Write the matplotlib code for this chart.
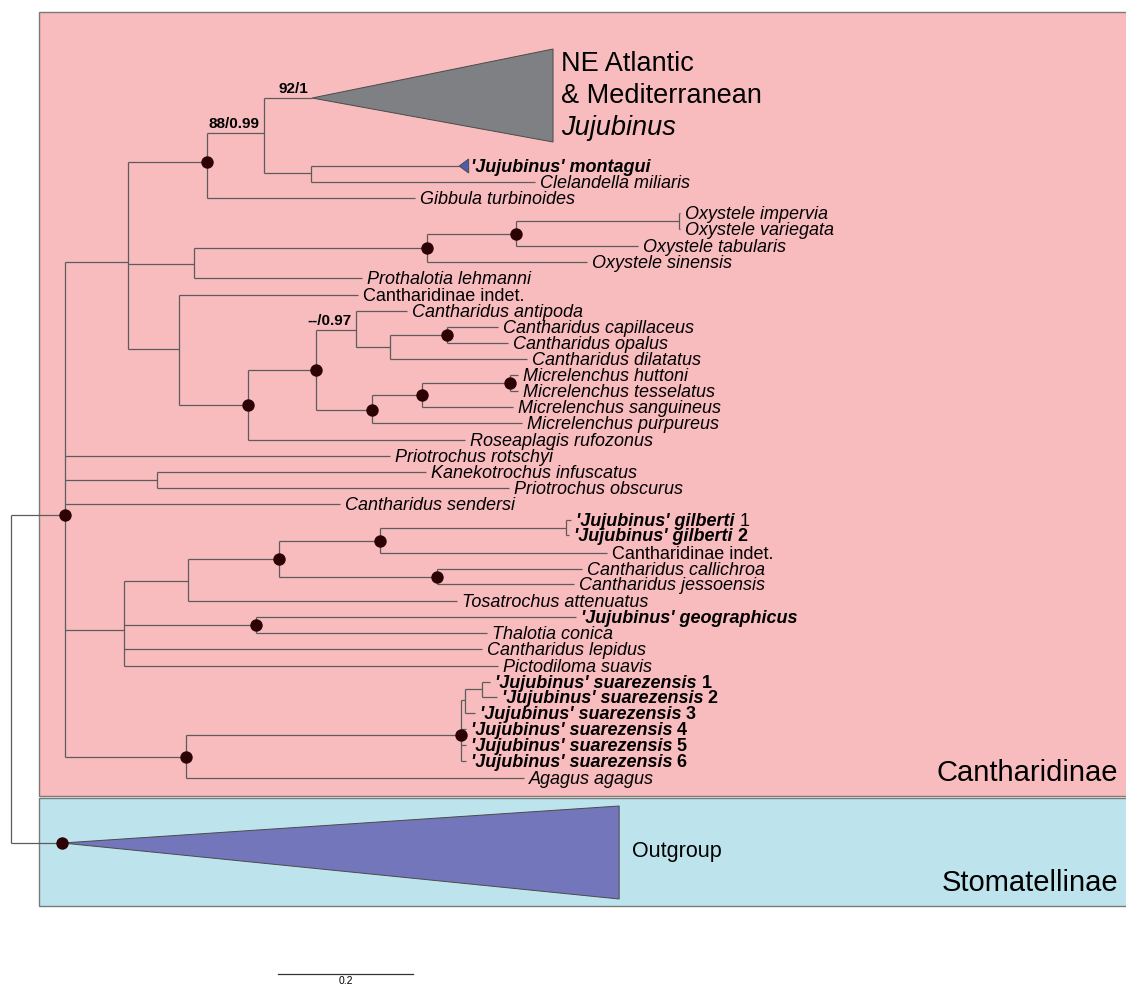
import matplotlib
matplotlib.use('Agg')
import matplotlib.pyplot as plt
from matplotlib.patches import Rectangle, Polygon
from collections import defaultdict

plt.rcParams['font.family'] = ['Liberation Sans', 'DejaVu Sans']

# internal nodes: name, parent, depth (subst./site from root), row y, well supported (dot)
nodes = [
    ('root', None, 0.000, 679, False),
    ('canth', 'root', 0.080, 515, True),
    ('outg', 'root', 0.076, 843, True),
    ('A', 'canth', 0.173, 262, False),
    ('B', 'A', 0.290, 162, True),
    ('E', 'B', 0.375, 133, False),
    ('F', 'E', 0.444, 173, False),
    ('C', 'A', 0.271, 264, False),
    ('G', 'C', 0.616, 248, True),
    ('H', 'G', 0.748, 234, True),
    ('I', 'H', 0.990, 221, False),
    ('D', 'A', 0.249, 349, False),
    ('J', 'D', 0.351, 405, True),
    ('K', 'J', 0.452, 370, True),
    ('L', 'K', 0.511, 330, False),
    ('M', 'L', 0.561, 347, False),
    ('N', 'M', 0.646, 335, True),
    ('O', 'K', 0.535, 410, True),
    ('Q', 'O', 0.609, 395, True),
    ('P', 'Q', 0.739, 383, True),
    ('R', 'canth', 0.216, 480, False),
    ('T', 'canth', 0.167, 630, False),
    ('U', 'T', 0.262, 581, False),
    ('V', 'U', 0.397, 559, True),
    ('W', 'V', 0.547, 541, True),
    ('X', 'W', 0.822, 528, False),
    ('Y', 'V', 0.631, 577, True),
    ('Z', 'T', 0.363, 625, True),
    ('S', 'canth', 0.259, 757, True),
    ('AA', 'S', 0.667, 735, True),
    ('CC', 'AA', 0.673, 700, False),
    ('BB', 'CC', 0.698, 689, False),
]

# tips: label, parent, depth, row y, style (i italic, r roman, bi bold italic, bin / bir numbered)
tips = [
    ('Clelandella miliaris', 'F', 0.776, 182, 'i'),
    ('Gibbula turbinoides', 'B', 0.599, 198, 'i'),
    ('Oxystele impervia', 'I', 0.991, 213, 'i'),
    ('Oxystele variegata', 'I', 0.991, 229, 'i'),
    ('Oxystele tabularis', 'H', 0.929, 246, 'i'),
    ('Oxystele sinensis', 'G', 0.853, 262, 'i'),
    ('Prothalotia lehmanni', 'C', 0.520, 278, 'i'),
    ('Cantharidinae indet.', 'D', 0.514, 295, 'r'),
    ('Cantharidus antipoda', 'L', 0.587, 311, 'i'),
    ('Cantharidus capillaceus', 'N', 0.721, 327, 'i'),
    ('Cantharidus opalus', 'N', 0.736, 343, 'i'),
    ('Cantharidus dilatatus', 'M', 0.764, 359, 'i'),
    ('Micrelenchus huttoni', 'P', 0.751, 375, 'i'),
    ('Micrelenchus tesselatus', 'P', 0.751, 391, 'i'),
    ('Micrelenchus sanguineus', 'Q', 0.744, 407, 'i'),
    ('Micrelenchus purpureus', 'O', 0.757, 423, 'i'),
    ('Roseaplagis rufozonus', 'J', 0.673, 440, 'i'),
    ('Priotrochus rotschyi', 'canth', 0.561, 456, 'i'),
    ('Kanekotrochus infuscatus', 'R', 0.615, 472, 'i'),
    ('Priotrochus obscurus', 'R', 0.738, 488, 'i'),
    ('Cantharidus sendersi', 'canth', 0.487, 504, 'i'),
    ("'Jujubinus' gilberti 1", 'X', 0.830, 520, 'bir'),
    ("'Jujubinus' gilberti 2", 'X', 0.827, 535, 'bin'),
    ('Cantharidinae indet.', 'W', 0.883, 553, 'r'),
    ('Cantharidus callichroa', 'Y', 0.846, 569, 'i'),
    ('Cantharidus jessoensis', 'Y', 0.834, 584, 'i'),
    ('Tosatrochus attenuatus', 'U', 0.661, 601, 'i'),
    ("'Jujubinus' geographicus", 'Z', 0.837, 617, 'bi'),
    ('Thalotia conica', 'Z', 0.705, 633, 'i'),
    ('Cantharidus lepidus', 'T', 0.698, 649, 'i'),
    ('Pictodiloma suavis', 'T', 0.721, 666, 'i'),
    ("'Jujubinus' suarezensis 1", 'BB', 0.710, 682, 'bin'),
    ("'Jujubinus' suarezensis 2", 'BB', 0.720, 697, 'bin'),
    ("'Jujubinus' suarezensis 3", 'CC', 0.687, 713, 'bin'),
    ("'Jujubinus' suarezensis 4", 'AA', 0.674, 729, 'bin'),
    ("'Jujubinus' suarezensis 5", 'AA', 0.674, 745, 'bin'),
    ("'Jujubinus' suarezensis 6", 'AA', 0.674, 761, 'bin'),
    ('Agagus agagus', 'S', 0.760, 778, 'i'),
]

# collapsed clades: name, parent, apex depth, tip depth, top y, bottom y, apex y, colour
clades = [
    ('NE', 'E', 0.446, 0.803, 49, 142, 98, '#7f8084'),
    ('montagui', 'F', 0.664, 0.678, 159, 173, 166, '#4d5cad'),
    ('Outgroup', 'outg', 0.076, 0.901, 806, 899, 843, '#7476bb'),
]

# bootstrap / posterior labels on the branch leading to a node
supports = [('92/1', 'NE'), ('88/0.99', 'E'), ('--/0.97', 'L')]

subfamilies = [('Cantharidinae', 12, 796, '#f8bcbe'),
               ('Stomatellinae', 798, 906, '#bde4ec')]

scale_len = 0.2
line_col = '#5c5c5c'

fig = plt.figure(figsize=(11.26, 9.86), dpi=100)
ax = fig.add_axes([0, 0, 1, 1])
ax.set_xlim(-11 / 675, 1115 / 675)
ax.set_ylim(986, 0)
ax.axis('off')

# coloured subfamily boxes
for name, y0, y1, col in subfamilies:
    ax.add_patch(Rectangle((0.0415, y0), 2.0, y1 - y0, facecolor=col,
                           edgecolor='#7a7a7a', lw=1.0, zorder=0))
    ax.text(1.640, y1 - 23, name, ha='right', va='center', fontsize=21)

pos = {n[0]: (n[2], n[3]) for n in nodes}
for c in clades:
    pos[c[0]] = (c[2], c[6])
kids = defaultdict(list)

# horizontal branches
for name, par, d, y, _ in nodes:
    if par is None:
        continue
    kids[par].append(y)
    ax.hlines(y, pos[par][0], d, color=line_col, lw=0.9, zorder=2)
for lab, par, d, y, st in tips:
    kids[par].append(y)
    ax.hlines(y, pos[par][0], d, color=line_col, lw=0.9, zorder=2)
for name, par, d0, d1, yt, yb, ya, col in clades:
    kids[par].append(ya)
    ax.hlines(ya, pos[par][0], d0, color=line_col, lw=0.9, zorder=2)
    ax.add_patch(Polygon([(d0, ya), (d1, yt), (d1, yb)], closed=True,
                         facecolor=col, edgecolor='#4a4a4a', lw=0.7, zorder=2))

# vertical connectors
for par, ys in kids.items():
    ax.vlines(pos[par][0], min(ys), max(ys), color=line_col, lw=0.9, zorder=2)

# supported nodes
dx = [n[2] for n in nodes if n[4]]
dy = [n[3] for n in nodes if n[4]]
ax.scatter(dx, dy, s=80, color='#2d0204', zorder=4, linewidths=0)

styles = {'i': ('italic', 'normal'), 'r': ('normal', 'normal'),
          'bi': ('italic', 'bold'), 'b': ('normal', 'bold')}


def put_label(x, y, parts, size=13, dxp=3.5):
    prev = None
    for txt, st in parts:
        fst, fw = styles[st]
        if prev is None:
            prev = ax.annotate(txt, (x, y), xytext=(dxp, -4.3), textcoords='offset points',
                               ha='left', va='baseline', fontsize=size,
                               fontstyle=fst, fontweight=fw, zorder=5)
        else:
            prev = ax.annotate(txt, (1, y), xycoords=(prev, 'data'), xytext=(0, -4.3),
                               textcoords='offset points', ha='left', va='baseline',
                               fontsize=size, fontstyle=fst, fontweight=fw, zorder=5)


for lab, par, d, y, st in tips:
    if st in ('bin', 'bir'):
        base, num = lab.rsplit(' ', 1)
        put_label(d, y, [(base, 'bi'), (' ' + num, 'b' if st == 'bin' else 'r')])
    else:
        put_label(d, y, [(lab, st)])

# collapsed clade labels
ne = clades[0]
for txt, st, yy in [('NE Atlantic', 'r', ne[6] - 34), ('& Mediterranean', 'r', ne[6] - 2),
                    ('Jujubinus', 'i', ne[6] + 30)]:
    ax.annotate(txt, (ne[3], yy), xytext=(6, 0), textcoords='offset points',
                ha='left', va='center', fontsize=19.5, fontstyle=styles[st][0])
mo = clades[1]
put_label(mo[3], mo[6], [("'Jujubinus' montagui", 'bi')], dxp=1.5)
og = clades[2]
ax.annotate('Outgroup', (og[3], og[6]), xytext=(9, -6), textcoords='offset points',
            ha='left', va='center', fontsize=15.5)

# support values
for txt, node in supports:
    x, y = pos[node]
    ax.annotate(txt, (x, y), xytext=(-3, 1.5), textcoords='offset points',
                ha='right', va='bottom', fontsize=11, fontweight='bold')

# scale bar
sx = 0.3956
ax.plot([sx, sx + scale_len], [974, 974], color='#333333', lw=0.9)
ax.text(sx + scale_len / 2, 976, str(scale_len), ha='center', va='top', fontsize=7.5)

fig.savefig('out.png', dpi=100)
